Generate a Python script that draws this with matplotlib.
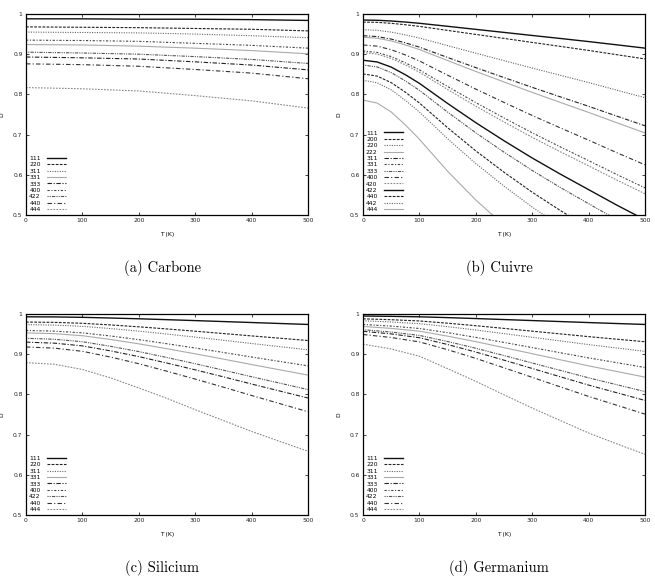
import matplotlib
matplotlib.use("Agg")
import matplotlib.pyplot as plt

# ---- data (Debye-Waller factor D vs temperature) ----
T_c = [0, 100, 200, 300, 400, 500]
hkl_c = ["111", "220", "311", "331", "333", "400", "422", "440", "444"]
D_c = [
    [0.988, 0.988, 0.987, 0.987, 0.986, 0.984],
    [0.968, 0.967, 0.966, 0.964, 0.962, 0.958],
    [0.955, 0.954, 0.953, 0.950, 0.946, 0.941],
    [0.924, 0.923, 0.920, 0.915, 0.909, 0.901],
    [0.893, 0.891, 0.888, 0.881, 0.873, 0.861],
    [0.935, 0.934, 0.932, 0.927, 0.922, 0.915],
    [0.905, 0.903, 0.900, 0.894, 0.887, 0.877],
    [0.876, 0.874, 0.870, 0.862, 0.853, 0.839],
    [0.817, 0.814, 0.8085, 0.797, 0.784, 0.766],
]

T_cu = [0, 25, 50, 75, 100, 150, 200, 250, 300, 350, 400, 450, 500]
hkl_cu = ["111", "200", "220", "222", "311", "331", "333", "400", "420",
          "422", "440", "442", "444"]
D_cu = [
    [0.985, 0.9844, 0.9826, 0.9800, 0.9769, 0.9694, 0.9618, 0.9542, 0.9466, 0.9391, 0.9314, 0.9233, 0.9151],
    [0.980, 0.9792, 0.9768, 0.9733, 0.9692, 0.9592, 0.9492, 0.9393, 0.9293, 0.9194, 0.9094, 0.8988, 0.8882],
    [0.961, 0.9595, 0.9549, 0.9481, 0.9402, 0.9213, 0.9025, 0.8840, 0.8655, 0.8475, 0.8295, 0.8105, 0.7918],
    [0.942, 0.9398, 0.9330, 0.9231, 0.9116, 0.8842, 0.8571, 0.8309, 0.8050, 0.7799, 0.7552, 0.7295, 0.7042],
    [0.946, 0.9439, 0.9376, 0.9283, 0.9176, 0.8919, 0.8666, 0.8419, 0.8175, 0.7938, 0.7704, 0.7460, 0.7219],
    [0.908, 0.9045, 0.8941, 0.8787, 0.8611, 0.8197, 0.7796, 0.7414, 0.7045, 0.6693, 0.6353, 0.6007, 0.5675],
    [0.873, 0.8683, 0.8542, 0.8336, 0.8102, 0.7560, 0.7044, 0.6564, 0.6108, 0.5683, 0.5282, 0.4881, 0.4506],
    [0.923, 0.9200, 0.9112, 0.8982, 0.8832, 0.8478, 0.8132, 0.7800, 0.7476, 0.7166, 0.6862, 0.6550, 0.6248],
    [0.904, 0.9003, 0.8895, 0.8735, 0.8552, 0.8123, 0.7707, 0.7314, 0.6932, 0.6572, 0.6223, 0.5869, 0.5529],
    [0.885, 0.8807, 0.8679, 0.8490, 0.8275, 0.7775, 0.7297, 0.6847, 0.6418, 0.6016, 0.5631, 0.5246, 0.4881],
    [0.851, 0.8455, 0.8293, 0.8056, 0.7787, 0.7172, 0.6595, 0.6064, 0.5567, 0.5111, 0.4685, 0.4266, 0.3879],
    [0.835, 0.8290, 0.8113, 0.7854, 0.7562, 0.6897, 0.6280, 0.5718, 0.5197, 0.4723, 0.4285, 0.3859, 0.3470],
    [0.786, 0.7785, 0.7563, 0.7242, 0.6885, 0.6089, 0.5373, 0.4740, 0.4172, 0.3672, 0.3224, 0.2804, 0.2433],
]

T_si = [0, 50, 100, 150, 200, 250, 300, 350, 400, 450, 500]
hkl_si = ["111", "220", "311", "331", "333", "400", "422", "440", "444"]
D_si = [
    [0.993, 0.9927, 0.9917, 0.9900, 0.9881, 0.9859, 0.9836, 0.9812, 0.9788, 0.9764, 0.974],
    [0.980, 0.9792, 0.9769, 0.9728, 0.9681, 0.9628, 0.9572, 0.9514, 0.9455, 0.9398, 0.934],
    [0.9735, 0.9724, 0.9693, 0.9638, 0.9573, 0.9501, 0.9425, 0.9347, 0.9266, 0.9188, 0.911],
    [0.953, 0.9511, 0.9460, 0.9366, 0.9258, 0.9136, 0.9009, 0.8878, 0.8743, 0.8611, 0.848],
    [0.930, 0.9275, 0.9207, 0.9083, 0.8940, 0.8779, 0.8611, 0.8437, 0.8258, 0.8084, 0.791],
    [0.959, 0.9574, 0.9531, 0.9453, 0.9362, 0.9260, 0.9154, 0.9043, 0.8930, 0.8820, 0.871],
    [0.9395, 0.9372, 0.9310, 0.9196, 0.9065, 0.8917, 0.8763, 0.8603, 0.8439, 0.8280, 0.812],
    [0.918, 0.9151, 0.9072, 0.8929, 0.8763, 0.8576, 0.8381, 0.8180, 0.7973, 0.7771, 0.757],
    [0.879, 0.875, 0.862, 0.841, 0.816, 0.790, 0.762, 0.735, 0.708, 0.683, 0.6585],
]

T_ge = [0, 50, 100, 150, 200, 250, 300, 350, 400, 450, 500]
hkl_ge = ["111", "220", "311", "331", "333", "400", "422", "440", "444"]
D_ge = [
    [0.995, 0.9942, 0.9930, 0.9910, 0.9887, 0.9862, 0.9837, 0.9812, 0.9787, 0.9763, 0.974],
    [0.988, 0.9858, 0.9827, 0.9771, 0.9709, 0.9642, 0.9573, 0.9505, 0.9437, 0.9373, 0.931],
    [0.983, 0.9801, 0.9759, 0.9685, 0.9602, 0.9512, 0.9421, 0.9330, 0.9239, 0.9154, 0.907],
    [0.969, 0.9642, 0.9573, 0.9449, 0.9312, 0.9163, 0.9012, 0.8861, 0.8710, 0.8570, 0.843],
    [0.957, 0.9505, 0.9410, 0.9241, 0.9054, 0.8851, 0.8645, 0.8438, 0.8232, 0.8041, 0.785],
    [0.974, 0.9699, 0.9640, 0.9536, 0.9419, 0.9293, 0.9164, 0.9036, 0.8908, 0.8789, 0.867],
    [0.961, 0.9551, 0.9467, 0.9316, 0.9148, 0.8966, 0.8781, 0.8597, 0.8412, 0.8241, 0.807],
    [0.949, 0.9415, 0.9306, 0.9112, 0.8896, 0.8662, 0.8425, 0.8187, 0.7950, 0.7730, 0.751],
    [0.925, 0.913, 0.895, 0.864, 0.8325, 0.799, 0.766, 0.735, 0.704, 0.677, 0.651],
]

captions = ["(a) Carbone", "(b) Cuivre", "(c) Silicium", "(d) Germanium"]
yticks = [0.5, 0.6, 0.7, 0.8, 0.9, 1.0]
ytick_labels = ["0.5", "0.6", "0.7", "0.8", "0.9", "1"]
xticks = [0, 100, 200, 300, 400, 500]

# gnuplot-like line types, cycling every 9 curves
styles = [
    ("#111111", "-", 1.0),
    ("#222222", (0, (2.5, 1.2)), 0.8),
    ("#666666", (0, (1, 1.2)), 0.8),
    ("#aaaaaa", "-", 0.8),
    ("#222222", (0, (4, 1.5, 1, 1.5)), 0.8),
    ("#444444", (0, (2, 1.5, 1, 1.5)), 0.8),
    ("#555555", (0, (1, 1, 1, 1, 3, 1)), 0.8),
    ("#333333", (0, (4, 2, 1, 2)), 0.8),
    ("#888888", (0, (1.5, 1.2)), 0.8),
]

W, H = 655, 581
fig = plt.figure(figsize=(W / 100, H / 100), dpi=100)

# axes boxes in pixels: left, top, right, bottom
boxes = [(26, 14, 308, 215), (363, 14, 645, 215),
         (26, 314, 308, 515), (363, 314, 645, 515)]
datasets = [(T_c, hkl_c, D_c), (T_cu, hkl_cu, D_cu),
            (T_si, hkl_si, D_si), (T_ge, hkl_ge, D_ge)]
cap_pos = [(162, 268), (499, 268), (162, 568), (499, 568)]

for (l, t, r, b), (T, hkl, D), cap, (cx, cy) in zip(boxes, datasets, captions, cap_pos):
    ax = fig.add_axes([l / W, 1 - b / H, (r - l) / W, (b - t) / H])
    for i, (lab, vals) in enumerate(zip(hkl, D)):
        c, ls, lw = styles[i % 9]
        ax.plot(T, vals, color=c, linestyle=ls, linewidth=lw, label=lab)
    ax.set_xlim(0, 500)
    ax.set_ylim(0.5, 1.0)
    ax.set_xticks(xticks)
    ax.set_xticklabels([str(v) for v in xticks])
    ax.set_yticks(yticks)
    ax.set_yticklabels(ytick_labels)
    ax.tick_params(direction="in", length=2.5, width=0.6, labelsize=4.3,
                   top=True, right=True, pad=2.5, colors="#222222")
    for s in ax.spines.values():
        s.set_linewidth(0.9)
    ax.set_xlabel("T (K)", fontsize=4.3)
    ax.xaxis.set_label_coords(0.5, -0.085)
    ax.set_ylabel("D", fontsize=4.3)
    ax.yaxis.set_label_coords(-0.076, 0.5)
    ax.legend(loc="lower left", bbox_to_anchor=(0.0, 0.0), frameon=False,
              fontsize=4.3, markerfirst=False, handlelength=3.3,
              handletextpad=1.0, labelspacing=0.2, borderpad=0.3,
              borderaxespad=0.2)
    fig.text(cx / W, 1 - cy / H, cap, ha="center", va="center",
             fontsize=10.5, family="cmr10")

plt.savefig("out.png", dpi=100)
